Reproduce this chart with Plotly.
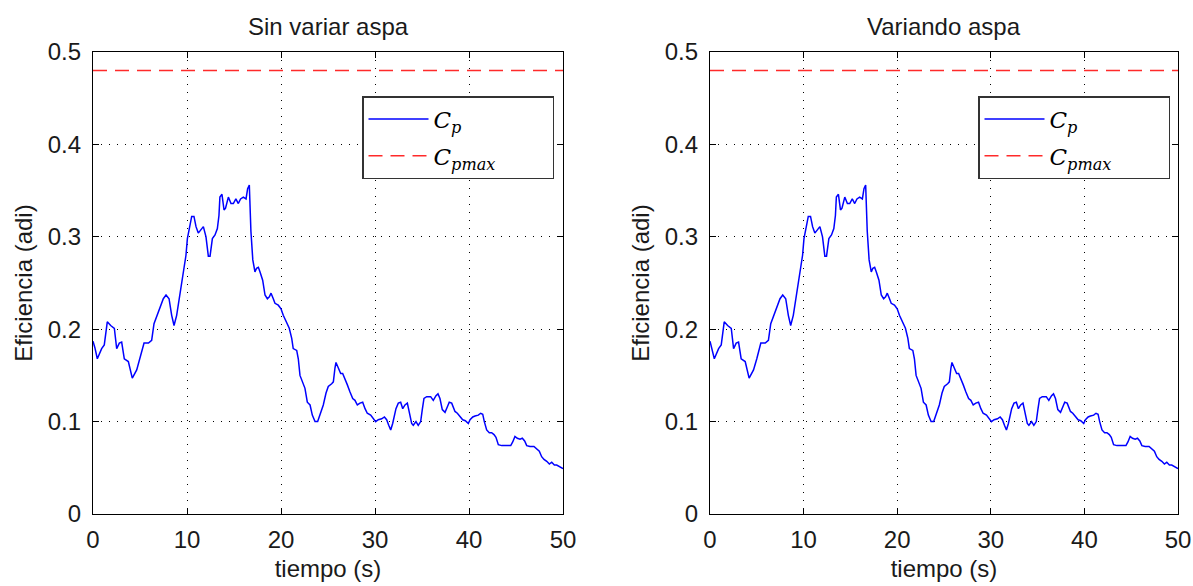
import plotly.graph_objects as go
from plotly.subplots import make_subplots

# Sampled power coefficient trace (time in s, Cp adimensional)
time_s = [0.0, 0.2, 0.46, 0.92, 1.2, 1.52, 1.88, 2.27, 2.52, 2.8, 3.05, 3.33, 3.76, 4.18, 4.65,
          5.0, 5.43, 5.9, 6.24, 6.49, 7.02, 7.48, 7.77, 8.09, 8.37, 8.62, 8.9, 9.18, 9.43, 9.68,
          9.89, 10.04, 10.25, 10.5, 10.74, 10.96, 11.2, 11.46, 11.74, 12.02, 12.27, 12.45, 12.7,
          12.98, 13.23, 13.4, 13.5, 13.72, 13.94, 14.1, 14.4, 14.68, 14.93, 15.2, 15.46, 15.7,
          15.99, 16.28, 16.45, 16.63, 16.8, 17.0, 17.23, 17.4, 17.59, 17.77, 18.05, 18.3, 18.55,
          18.76, 18.94, 19.18, 19.36, 19.71, 20.0, 20.24, 20.6, 20.88, 21.14, 21.3, 21.67, 21.84,
          22.02, 22.3, 22.55, 22.8, 23.09, 23.33, 23.62, 23.9, 24.22, 24.5, 24.79, 25.03, 25.39,
          25.57, 25.74, 25.85, 26.1, 26.35, 26.56, 26.8, 27.05, 27.34, 27.63, 27.87, 28.12, 28.4,
          28.69, 28.94, 29.18, 29.54, 29.82, 30.07, 30.35, 30.71, 31.0, 31.24, 31.46, 31.67,
          31.88, 32.05, 32.23, 32.48, 32.73, 32.95, 33.19, 33.44, 33.65, 33.9, 34.07, 34.36,
          34.6, 34.86, 35.03, 35.21, 35.5, 35.92, 36.2, 36.49, 36.7, 36.91, 37.16, 37.45, 37.7,
          37.9, 38.16, 38.33, 38.51, 38.76, 39.04, 39.33, 39.61, 39.93, 40.11, 40.4, 40.64,
          40.99, 41.24, 41.46, 41.63, 41.88, 42.16, 42.41, 42.66, 42.87, 43.12, 43.48, 44.01,
          44.44, 44.65, 44.89, 45.14, 45.43, 45.67, 45.92, 46.14, 46.49, 46.91, 47.2, 47.48,
          47.73, 47.98, 48.27, 48.55, 48.8, 49.08, 49.33, 49.6, 50.0]

cp = [0.187, 0.180, 0.168, 0.179, 0.183, 0.208, 0.204, 0.201, 0.179, 0.185, 0.186, 0.168, 0.165,
      0.147, 0.156, 0.168, 0.185, 0.185, 0.188, 0.206, 0.221, 0.233, 0.237, 0.233, 0.215, 0.204,
      0.215, 0.233, 0.251, 0.266, 0.280, 0.298, 0.309, 0.322, 0.322, 0.311, 0.304, 0.307, 0.311,
      0.300, 0.279, 0.279, 0.298, 0.302, 0.309, 0.323, 0.343, 0.346, 0.329, 0.331, 0.343, 0.336,
      0.336, 0.341, 0.336, 0.341, 0.343, 0.341, 0.352, 0.356, 0.306, 0.275, 0.262, 0.266, 0.267,
      0.262, 0.253, 0.237, 0.233, 0.235, 0.239, 0.233, 0.228, 0.226, 0.222, 0.215, 0.208, 0.201,
      0.190, 0.179, 0.177, 0.168, 0.150, 0.143, 0.136, 0.121, 0.118, 0.107, 0.100, 0.100, 0.109,
      0.118, 0.131, 0.138, 0.141, 0.143, 0.158, 0.164, 0.158, 0.152, 0.152, 0.147, 0.140, 0.132,
      0.125, 0.123, 0.118, 0.120, 0.121, 0.114, 0.109, 0.107, 0.103, 0.100, 0.102, 0.103, 0.105,
      0.102, 0.096, 0.091, 0.098, 0.107, 0.114, 0.120, 0.121, 0.114, 0.118, 0.120, 0.111, 0.098,
      0.096, 0.100, 0.096, 0.100, 0.113, 0.125, 0.127, 0.127, 0.123, 0.128, 0.130, 0.125, 0.113,
      0.110, 0.116, 0.121, 0.120, 0.116, 0.111, 0.109, 0.105, 0.102, 0.101, 0.098, 0.102, 0.105,
      0.106, 0.107, 0.109, 0.108, 0.100, 0.091, 0.088, 0.088, 0.086, 0.083, 0.075, 0.074, 0.074,
      0.074, 0.078, 0.084, 0.082, 0.081, 0.082, 0.079, 0.074, 0.073, 0.073, 0.070, 0.068, 0.062,
      0.059, 0.057, 0.054, 0.056, 0.053, 0.053, 0.051, 0.049]

cp_max = 0.48
cp_max_span = [0, 50]

panel_titles = ["Sin variar aspa", "Variando aspa"]
x_label = "tiempo (s)"
y_label = "Eficiencia (adi)"
x_ticks = [0, 10, 20, 30, 40, 50]
y_ticks = [0, 0.1, 0.2, 0.3, 0.4, 0.5]

W, H = 1193, 586
SANS = "Liberation Sans, Arial, sans-serif"
SERIF = "DejaVu Serif, Liberation Serif, serif"
PAD = "&nbsp;" * 7  # widens the legend box to the right of the labels

fig = make_subplots(rows=1, cols=2, subplot_titles=panel_titles)

legend_names = ["legend", "legend2"]
for col in (1, 2):
    fig.add_trace(go.Scatter(
        x=time_s, y=cp, mode="lines",
        line=dict(color="#0000ff", width=1.5),
        name="<i>C<sub>p</sub></i>" + PAD,
        legendgroup=f"cp{col}",
        legend=legend_names[col - 1]), row=1, col=col)
    fig.add_trace(go.Scatter(
        x=cp_max_span, y=[cp_max, cp_max], mode="lines",
        line=dict(color="#ff2a2a", width=1.5, dash="14px,8px"),
        name="<i>C<sub>pmax</sub></i>" + PAD,
        legendgroup=f"cpmax{col}",
        legend=legend_names[col - 1]), row=1, col=col)

# Axes domains in paper fractions (pixel layout of the two panels)
y_dom = [1 - 514 / H, 1 - 52 / H]
x_doms = [[93 / W, 563 / W], [710 / W, 1178 / W]]

axis_common = dict(
    showline=True, linecolor="black", linewidth=1.2, mirror="allticks",
    ticks="inside", ticklen=6, tickcolor="black", tickwidth=1,
    showgrid=True, gridcolor="black", gridwidth=1, griddash="1px,7px",
    zeroline=False, automargin=False,
    tickfont=dict(family=SANS, size=24, color="#1a1a1a"),
)

for i in (1, 2):
    fig.update_xaxes(row=1, col=i, domain=x_doms[i - 1], range=[0, 50],
                     tickvals=x_ticks, ticklabelstandoff=4,
                     title=dict(text=x_label, standoff=8,
                                font=dict(family=SANS, size=24, color="#1a1a1a")),
                     **axis_common)
    fig.update_yaxes(row=1, col=i, domain=y_dom, range=[0, 0.5],
                     tickvals=y_ticks, ticktext=[str(v) if v else "0" for v in y_ticks],
                     ticklabelstandoff=6,
                     title=dict(text=y_label, standoff=8,
                                font=dict(family=SANS, size=24, color="#1a1a1a")),
                     **axis_common)

# Place the panel titles centred above each axes box
for ann, dom in zip(fig.layout.annotations, x_doms):
    ann.x = (dom[0] + dom[1]) / 2
    ann.y = y_dom[1]
    ann.xanchor = "center"
    ann.yanchor = "bottom"
    ann.yshift = 10
    ann.font = dict(family=SANS, size=24, color="#1a1a1a")

legend_common = dict(
    bgcolor="white", bordercolor="#333333", borderwidth=1.5,
    font=dict(family=SERIF, size=23, color="black"),
    xanchor="left", yanchor="top", tracegroupgap=4, itemwidth=60,
)
fig.update_layout(
    width=W, height=H,
    margin=dict(l=0, r=0, t=0, b=0),
    paper_bgcolor="white", plot_bgcolor="white",
    showlegend=True,
    legend=dict(x=362 / W, y=1 - 96 / H, **legend_common),
    legend2=dict(x=978 / W, y=1 - 96 / H, **legend_common),
)

fig.write_html("out.html")
